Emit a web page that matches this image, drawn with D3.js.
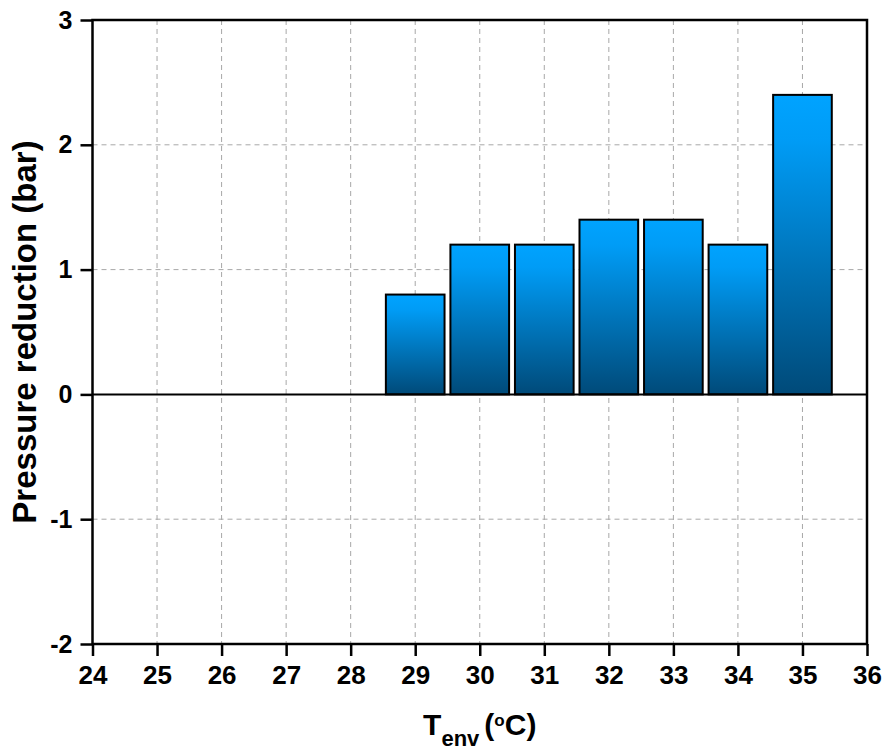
<!DOCTYPE html>
<html>
<head>
<meta charset="utf-8">
<script src="https://cdn.jsdelivr.net/npm/d3@7"></script>
<style>
  html, body { margin: 0; padding: 0; background: #fff; }
  svg { display: block; }
  text { font-family: "Liberation Sans", Arial, sans-serif; font-weight: bold; fill: #000; }
</style>
</head>
<body>
<svg id="chart" width="887" height="751"></svg>
<script>
// Pressure reduction per ambient temperature
const temperatures = [29, 30, 31, 32, 33, 34, 35];
const pressureReduction = [0.8, 1.2, 1.2, 1.4, 1.4, 1.2, 2.4];
const xTicks = [24, 25, 26, 27, 28, 29, 30, 31, 32, 33, 34, 35, 36];
const yTicks = [-2, -1, 0, 1, 2, 3];

const W = 887, H = 751;
const margin = { left: 92.5, right: W - 867, top: 20, bottom: H - 644 };
const svg = d3.select("#chart");

const x = d3.scaleLinear().domain([24, 36]).range([margin.left, W - margin.right]);
const y = d3.scaleLinear().domain([-2, 3]).range([H - margin.bottom, margin.top]);

// Bar fill gradient (per bar, bright top to dark bottom)
const defs = svg.append("defs");
const grad = defs.append("linearGradient")
  .attr("id", "barGrad").attr("x1", 0).attr("y1", 0).attr("x2", 0).attr("y2", 1);
grad.append("stop").attr("offset", "0%").attr("stop-color", "#00a3ff");
grad.append("stop").attr("offset", "15%").attr("stop-color", "#009cf6");
grad.append("stop").attr("offset", "100%").attr("stop-color", "#004a79");

// Grid lines
const grid = svg.append("g");
grid.selectAll("line.vx")
  .data(xTicks.filter(t => t > 24 && t < 36))
  .join("line")
  .attr("x1", d => x(d)).attr("x2", d => x(d))
  .attr("y1", y(3)).attr("y2", y(-2))
  .attr("stroke", "#a8a8a8").attr("stroke-width", 1).attr("stroke-dasharray", "5,4");
grid.selectAll("line.hy")
  .data(yTicks.filter(t => t !== -2 && t !== 3 && t !== 0))
  .join("line")
  .attr("x1", x(24)).attr("x2", x(36))
  .attr("y1", d => y(d)).attr("y2", d => y(d))
  .attr("stroke", "#a8a8a8").attr("stroke-width", 1).attr("stroke-dasharray", "5,4");

// Bars
const barW = 0.94 * (x(1) - x(0)) - 2;
svg.append("g").selectAll("rect")
  .data(temperatures.map((t, i) => ({ t, v: pressureReduction[i] })))
  .join("rect")
  .attr("x", d => x(d.t) - barW / 2)
  .attr("width", barW)
  .attr("y", d => y(d.v))
  .attr("height", d => y(0) - y(d.v))
  .attr("fill", "url(#barGrad)")
  .attr("stroke", "#000")
  .attr("stroke-width", 2);

// Zero line
svg.append("line")
  .attr("x1", x(24)).attr("x2", x(36))
  .attr("y1", y(0)).attr("y2", y(0))
  .attr("stroke", "#000").attr("stroke-width", 2);

// Axes
const xAxis = svg.append("g")
  .attr("transform", `translate(0,${y(-2)})`)
  .call(d3.axisBottom(x).tickValues(xTicks).tickFormat(d3.format("d")).tickSize(12).tickPadding(10));
const yAxis = svg.append("g")
  .attr("transform", `translate(${x(24)},0)`)
  .call(d3.axisLeft(y).tickValues(yTicks).tickFormat(d3.format("d")).tickSize(12).tickPadding(8));

[xAxis, yAxis].forEach(g => {
  g.select(".domain").remove();
  g.selectAll(".tick line").attr("stroke", "#000").attr("stroke-width", 2.5);
  g.selectAll(".tick text")
    .style("font-family", '"Liberation Sans", Arial, sans-serif')
    .style("font-weight", "bold").attr("fill", "#000");
});
xAxis.selectAll(".tick text").style("font-size", "26px");
yAxis.selectAll(".tick text").style("font-size", "25px")
  .text(d => d < 0 ? "-" + Math.abs(d) : d);

// Frame
svg.append("rect")
  .attr("x", x(24)).attr("y", y(3))
  .attr("width", x(36) - x(24)).attr("height", y(-2) - y(3))
  .attr("fill", "none").attr("stroke", "#000").attr("stroke-width", 2.5);

// Axis titles
const xt = svg.append("text")
  .attr("x", (x(24) + x(36)) / 2).attr("y", 735)
  .attr("text-anchor", "middle").style("font-size", "30px");
xt.append("tspan").text("T");
xt.append("tspan").attr("dy", 11).style("font-size", "22px").text("env");
xt.append("tspan").attr("dy", -11).attr("dx", 5).text("(");
xt.append("tspan").attr("dy", -9).style("font-size", "17px").text("o");
xt.append("tspan").attr("dy", 9).text("C)");

svg.append("text")
  .attr("transform", `translate(36,${(y(3) + y(-2)) / 2}) rotate(-90)`)
  .attr("text-anchor", "middle").style("font-size", "33px")
  .text("Pressure reduction (bar)");
</script>
</body>
</html>
